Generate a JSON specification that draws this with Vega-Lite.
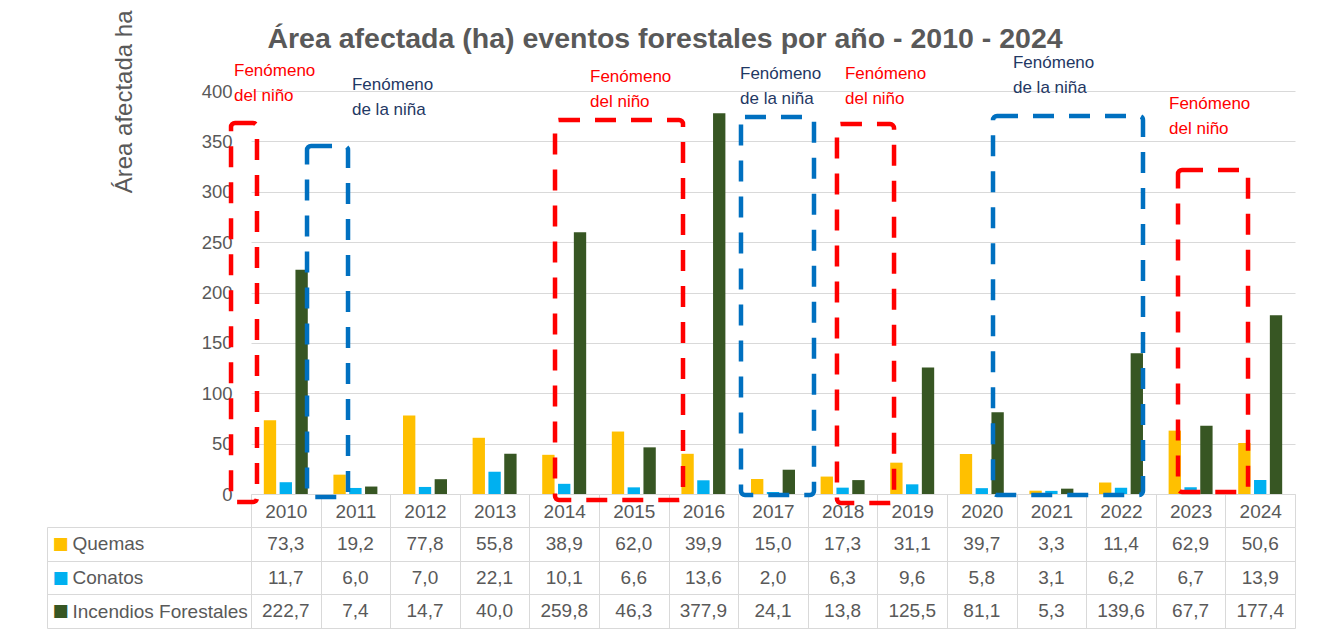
{
  "$schema": "https://vega.github.io/schema/vega-lite/v6.json",
  "padding": {"left": 46, "top": 10, "right": 0, "bottom": 0},
  "background": "white",
  "config": {
    "font": "Liberation Sans",
    "view": {"stroke": null},
    "axis": {"labelFont": "Liberation Sans", "titleFont": "Liberation Sans"},
    "locale": {"number": {"decimal": ",", "thousands": ".", "grouping": [3], "currency": ["", " €"]}}
  },
  "title": {
    "text": "Área afectada (ha) eventos forestales por año - 2010 - 2024",
    "font": "Liberation Sans",
    "fontSize": 28.5,
    "fontWeight": "bold",
    "color": "#595959",
    "anchor": "middle",
    "frame": "bounds",
    "offset": 0,
    "baseline": "alphabetic",
    "dy": 66,
    "dx": -6
  },
  "datasets": {
    "tabla": [
      {"year": "2010", "Quemas": 73.3, "Conatos": 11.7, "Incendios Forestales": 222.7},
      {"year": "2011", "Quemas": 19.2, "Conatos": 6.0, "Incendios Forestales": 7.4},
      {"year": "2012", "Quemas": 77.8, "Conatos": 7.0, "Incendios Forestales": 14.7},
      {"year": "2013", "Quemas": 55.8, "Conatos": 22.1, "Incendios Forestales": 40.0},
      {"year": "2014", "Quemas": 38.9, "Conatos": 10.1, "Incendios Forestales": 259.8},
      {"year": "2015", "Quemas": 62.0, "Conatos": 6.6, "Incendios Forestales": 46.3},
      {"year": "2016", "Quemas": 39.9, "Conatos": 13.6, "Incendios Forestales": 377.9},
      {"year": "2017", "Quemas": 15.0, "Conatos": 2.0, "Incendios Forestales": 24.1},
      {"year": "2018", "Quemas": 17.3, "Conatos": 6.3, "Incendios Forestales": 13.8},
      {"year": "2019", "Quemas": 31.1, "Conatos": 9.6, "Incendios Forestales": 125.5},
      {"year": "2020", "Quemas": 39.7, "Conatos": 5.8, "Incendios Forestales": 81.1},
      {"year": "2021", "Quemas": 3.3, "Conatos": 3.1, "Incendios Forestales": 5.3},
      {"year": "2022", "Quemas": 11.4, "Conatos": 6.2, "Incendios Forestales": 139.6},
      {"year": "2023", "Quemas": 62.9, "Conatos": 6.7, "Incendios Forestales": 67.7},
      {"year": "2024", "Quemas": 50.6, "Conatos": 13.9, "Incendios Forestales": 177.4}
    ],
    "cajas": [
      {"tipo": "niño", "x1": 2009.213, "x2": 2009.586, "ytop": 368.2, "ybot": -7.9},
      {"tipo": "niña", "x1": 2010.305, "x2": 2010.894, "ytop": 345.4, "ybot": -3.0},
      {"tipo": "niño", "x1": 2013.868, "x2": 2015.707, "ytop": 371.2, "ybot": -6.0},
      {"tipo": "niña", "x1": 2016.540, "x2": 2017.589, "ytop": 374.2, "ybot": -1.0},
      {"tipo": "niño", "x1": 2017.919, "x2": 2018.739, "ytop": 367.2, "ybot": -8.9},
      {"tipo": "niña", "x1": 2020.161, "x2": 2022.316, "ytop": 375.2, "ybot": -1.0},
      {"tipo": "niño", "x1": 2022.819, "x2": 2023.825, "ytop": 321.6, "ybot": 2.0}
    ],
    "textos": [
      {"tipo": "niño", "x": 2009.256, "y": 414.9, "texto": "Fenómeno\ndel niño"},
      {"tipo": "niña", "x": 2010.951, "y": 401.0, "texto": "Fenómeno\nde la niña"},
      {"tipo": "niño", "x": 2014.371, "y": 408.9, "texto": "Fenómeno\ndel niño"},
      {"tipo": "niña", "x": 2016.526, "y": 411.9, "texto": "Fenómeno\nde la niña"},
      {"tipo": "niño", "x": 2018.034, "y": 411.9, "texto": "Fenómeno\ndel niño"},
      {"tipo": "niña", "x": 2020.448, "y": 422.8, "texto": "Fenómeno\nde la niña"},
      {"tipo": "niño", "x": 2022.690, "y": 382.1, "texto": "Fenómeno\ndel niño"}
    ]
  },
  "vconcat": [
    {
      "width": 1044,
      "height": 403,
      "layer": [
        {
          "data": {"name": "tabla"},
          "transform": [{"fold": ["Quemas", "Conatos", "Incendios Forestales"], "as": ["serie", "valor"]}],
          "mark": {"type": "bar"},
          "encoding": {
            "x": {
              "field": "year", "type": "ordinal",
              "scale": {"type": "band", "paddingInner": 0, "paddingOuter": 0},
              "axis": {"title": null, "domain": true, "domainColor": "#d9d9d9", "ticks": true, "tickBand": "extent", "tickSize": 33, "tickColor": "#d9d9d9", "labelFontSize": 19, "labelColor": "#595959", "labelPadding": -15.5, "labelBaseline": "middle", "labelAngle": 0, "grid": false}
            },
            "xOffset": {"field": "serie", "type": "nominal", "sort": ["Quemas", "Conatos", "Incendios Forestales"], "scale": {"paddingInner": 0.22, "paddingOuter": 0.81}},
            "y": {
              "field": "valor", "type": "quantitative",
              "scale": {"domain": [0, 400], "nice": false},
              "title": "Área afectada ha",
              "axis": {"values": [0, 50, 100, 150, 200, 250, 300, 350, 400], "grid": true, "gridColor": "#d9d9d9", "domain": false, "ticks": false, "labelFontSize": 18.5, "labelColor": "#595959", "labelPadding": 19, "titleFontSize": 24, "titleFontWeight": "normal", "titleColor": "#595959", "titleAngle": -90, "titleAlign": "right", "titleBaseline": "alphabetic", "titleX": -120, "titleY": -81}
            },
            "color": {"field": "serie", "type": "nominal", "scale": {"domain": ["Quemas", "Conatos", "Incendios Forestales"], "range": ["#FFC000", "#00B0F0", "#375623"]}, "legend": null}
          }
        },
        {
          "data": {"name": "cajas"},
          "mark": {"type": "rect", "filled": false, "strokeWidth": 4.5, "strokeDash": [21, 15], "cornerRadius": 4},
          "encoding": {
            "x": {"field": "x1", "type": "quantitative", "scale": {"domain": [2009.5, 2024.5], "nice": false, "zero": false}, "axis": null},
            "x2": {"field": "x2"},
            "y": {"field": "ytop", "type": "quantitative", "scale": {"domain": [0, 400], "nice": false}, "title": "Área afectada ha"},
            "y2": {"field": "ybot"},
            "stroke": {"field": "tipo", "type": "nominal", "scale": {"domain": ["niño", "niña"], "range": ["#FF0000", "#0070C0"]}, "legend": null}
          }
        },
        {
          "data": {"name": "textos"},
          "mark": {"type": "text", "align": "left", "baseline": "alphabetic", "fontSize": 17, "lineHeight": 25, "lineBreak": "\n"},
          "encoding": {
            "x": {"field": "x", "type": "quantitative", "scale": {"domain": [2009.5, 2024.5], "nice": false, "zero": false}, "axis": null},
            "y": {"field": "y", "type": "quantitative", "scale": {"domain": [0, 400], "nice": false}, "title": "Área afectada ha"},
            "text": {"field": "texto"},
            "fill": {"field": "tipo", "type": "nominal", "scale": {"domain": ["niño", "niña"], "range": ["#FF0000", "#1F3864"]}, "legend": null}
          }
        }
      ],
      "resolve": {"scale": {"x": "independent"}}
    },
    {
      "width": 1044,
      "height": 101,
      "data": {"name": "tabla"},
      "transform": [{"fold": ["Quemas", "Conatos", "Incendios Forestales"], "as": ["serie", "valor"]}],
      "layer": [
        {
          "mark": {"type": "text", "fontSize": 19, "color": "#595959"},
          "encoding": {
            "x": {
              "field": "year", "type": "ordinal",
              "scale": {"type": "band", "paddingInner": 0, "paddingOuter": 0},
              "axis": {"title": null, "grid": true, "tickBand": "extent", "gridColor": "#d9d9d9", "ticks": false, "labels": false, "domain": false}
            },
            "y": {
              "field": "serie", "type": "nominal", "sort": ["Quemas", "Conatos", "Incendios Forestales"],
              "scale": {"type": "band", "paddingInner": 0, "paddingOuter": 0},
              "axis": {"title": null, "grid": true, "tickBand": "extent", "gridColor": "#d9d9d9", "ticks": true, "tickSize": 204, "tickColor": "#d9d9d9", "domain": true, "domainColor": "#d9d9d9", "labelAlign": "left", "labelBaseline": "middle", "labelPadding": -25, "labelFontSize": 19, "labelColor": "#595959", "labelLimit": 300}
            },
            "text": {"field": "valor", "type": "quantitative", "format": ".1f"}
          }
        },
        {
          "mark": {"type": "text", "opacity": 0},
          "encoding": {
            "y": {
              "field": "serie", "type": "nominal", "sort": ["Quemas", "Conatos", "Incendios Forestales"],
              "scale": {"type": "band", "paddingInner": 0, "paddingOuter": 0},
              "axis": {"orient": "left", "offset": 204, "title": null, "grid": false, "ticks": false, "domain": true, "domainColor": "#d9d9d9", "labelExpr": "'■'", "labelAlign": "left", "labelBaseline": "middle", "labelPadding": -5, "labelFont": "DejaVu Sans", "labelFontSize": 17, "labelColor": {"condition": [{"test": "datum.value === 'Quemas'", "value": "#FFC000"}, {"test": "datum.value === 'Conatos'", "value": "#00B0F0"}], "value": "#375623"}}
            },
            "text": {"value": ""}
          }
        }
      ],
      "resolve": {"scale": {"y": "independent"}}
    }
  ],
  "spacing": 33,
  "bounds": "flush"
}
